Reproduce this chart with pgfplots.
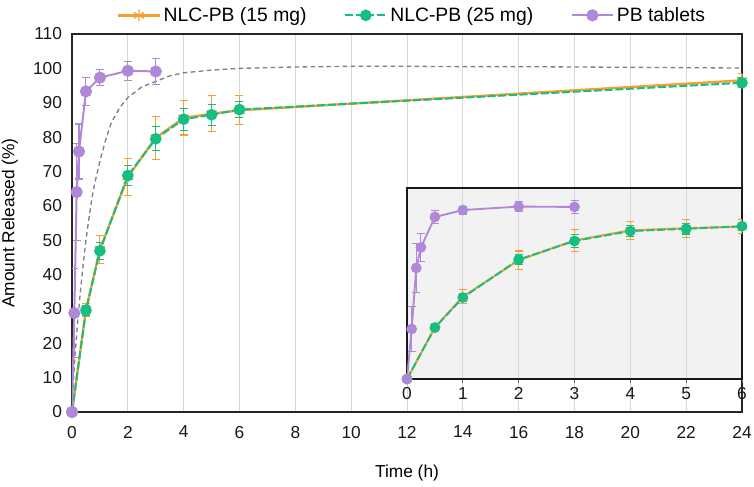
\documentclass[border=0pt]{standalone}
\usepackage{pgfplots}
\pgfplotsset{compat=1.18}
\usepackage{pgfplotstable}
\usepackage{fontspec}
\setmainfont{Liberation Sans}
\definecolor{cor}{RGB}{247,160,50}
\definecolor{cgr}{RGB}{22,190,130}
\definecolor{cpu}{RGB}{176,136,216}
\definecolor{cgrid}{RGB}{217,217,217}

\pgfplotstableread{
t y e
0 0 0
0.5 29.7 2
1 47.3 4
2 68.4 5.3
3 79.8 6.3
4 85.6 5
5 86.8 5.2
6 87.8 4.2
24 96.5 2
}\tabor

\pgfplotstableread{
t y e
0 0 0
0.5 29.6 1.5
1 46.9 2.5
2 68.8 3
3 79.5 3.5
4 85.2 3.2
5 86.5 3
6 88.0 2.4
24 95.8 1.5
}\tabgr

\pgfplotstableread{
t y e
0 0 0
0.0833 28.8 13
0.1667 64 14
0.25 75.8 8
0.5 93.3 4
1 97.3 2.3
2 99.3 2.8
3 99.1 3.8
}\tabpu

\pgfplotstableread{
t y
0 0
0.05 9
0.1 15.5
0.2 26
0.3 35
0.4 43
0.5 50
0.6 56
0.7 61.5
0.8 66
1.0 73
1.2 79
1.4 84
1.7 88.5
2.0 91.5
2.5 94.6
3.0 96.2
3.5 97.8
4.0 98.7
5.0 99.5
6.0 100.0
8.0 100.4
10 100.6
12 100.6
14 100.5
16 100.5
18 100.4
20 100.3
22 100.2
24 100.1
}\tabfit

\begin{document}
\begin{tikzpicture}
\useasboundingbox (-54pt,-55.5pt) rectangle (511.5pt,309pt);
\begin{axis}[
  at={(0pt,0pt)}, anchor=south west,
  width=502.5pt, height=283.5pt, scale only axis,
  xmin=0, xmax=24, ymin=0, ymax=110,
  xtick={0,2,...,24}, ytick={0,10,...,110},
  xmajorgrids, grid style={draw=cgrid, line width=0.7pt},
  tick style={draw=none},
  axis line style={black!85, line width=0.8pt},
  /pgf/number format/assume math mode=true,
  ticklabel style={font=\fontsize{13}{15}\selectfont, black!90},
  xticklabel style={yshift=-7pt},
  yticklabel style={xshift=-4pt},
  xlabel={Time (h)}, ylabel={Amount Released (\%)},
  label style={font=\fontsize{13}{15}\selectfont},
  xlabel style={at={([yshift=-46pt]axis description cs:0.5,0)}, anchor=center},
  ylabel style={at={([xshift=-46.5pt]axis description cs:0,0.5)}, anchor=center},
  legend style={at={([yshift=14pt,xshift=4pt]axis description cs:0.5,1)}, anchor=center,
    draw=none, fill=none, font=\fontsize{14.5}{16}\selectfont,
    /tikz/every odd column/.append style={column sep=0pt},
    /tikz/every even column/.append style={column sep=26pt}},
  legend columns=3,
  legend cell align=left,
  legend image code/.code={\draw[mark repeat=2,mark phase=2] plot coordinates {(0cm,0cm) (0.55cm,0cm) (1.1cm,0cm)};},
]
\addplot[black!50, dash pattern=on 3.5pt off 2.5pt, line width=1pt, forget plot] table[x=t,y=y] {\tabfit};
\addplot[cor, line width=1.8pt, mark=asterisk, mark size=4.5pt, mark options={line width=0.9pt},
  error bars/.cd, y dir=both, y explicit, error bar style={line width=0.8pt, solid},
  error mark options={rotate=90, mark size=3pt, line width=0.8pt}]
  table[x=t,y=y,y error=e] {\tabor};
\addlegendentry{NLC-PB (15 mg)}
\addplot[cgr, line width=1.5pt, dash pattern=on 6pt off 2pt, mark=*, mark size=3.6pt, mark options={solid},
  error bars/.cd, y dir=both, y explicit, error bar style={line width=0.8pt, solid},
  error mark options={rotate=90, mark size=3pt, line width=0.8pt, solid}]
  table[x=t,y=y,y error=e] {\tabgr};
\addlegendentry{NLC-PB (25 mg)}
\addplot[cpu, line width=1.5pt, mark=*, mark size=3.8pt,
  error bars/.cd, y dir=both, y explicit, error bar style={line width=0.8pt},
  error mark options={rotate=90, mark size=3pt, line width=0.8pt}]
  table[x=t,y=y,y error=e] {\tabpu};
\addlegendentry{PB tablets}
\end{axis}

\begin{axis}[
  at={(251.25pt,24.75pt)}, anchor=south west,
  width=251.25pt, height=143.25pt, scale only axis,
  xmin=0, xmax=6, ymin=0, ymax=110,
  xtick={0,...,6}, ytick=\empty,
  xmajorgrids, grid style={draw=cgrid, line width=0.7pt},
  axis background/.style={fill=black!5},
  axis line style={black!90, line width=0.8pt},
  tick align=outside, xtick pos=bottom, major tick length=3pt,
  tick style={black!60, line width=0.6pt},
  /pgf/number format/assume math mode=true,
  ticklabel style={font=\fontsize{13}{15}\selectfont, black!90},
  xticklabel style={yshift=0pt},
]
\addplot[cor, line width=1.6pt, mark=asterisk, mark size=4pt, mark options={line width=0.9pt},
  error bars/.cd, y dir=both, y explicit, error bar style={line width=0.8pt, solid},
  error mark options={rotate=90, mark size=3pt, line width=0.8pt}]
  table[x=t,y=y,y error=e] {\tabor};
\addplot[cgr, line width=1.4pt, dash pattern=on 6pt off 2pt, mark=*, mark size=3.3pt, mark options={solid},
  error bars/.cd, y dir=both, y explicit, error bar style={line width=0.8pt, solid},
  error mark options={rotate=90, mark size=3pt, line width=0.8pt, solid}]
  table[x=t,y=y,y error=e] {\tabgr};
\addplot[cpu, line width=1.4pt, mark=*, mark size=3.3pt,
  error bars/.cd, y dir=both, y explicit, error bar style={line width=0.8pt},
  error mark options={rotate=90, mark size=3pt, line width=0.8pt}]
  table[x=t,y=y,y error=e] {\tabpu};
\end{axis}
\end{tikzpicture}
\end{document}
